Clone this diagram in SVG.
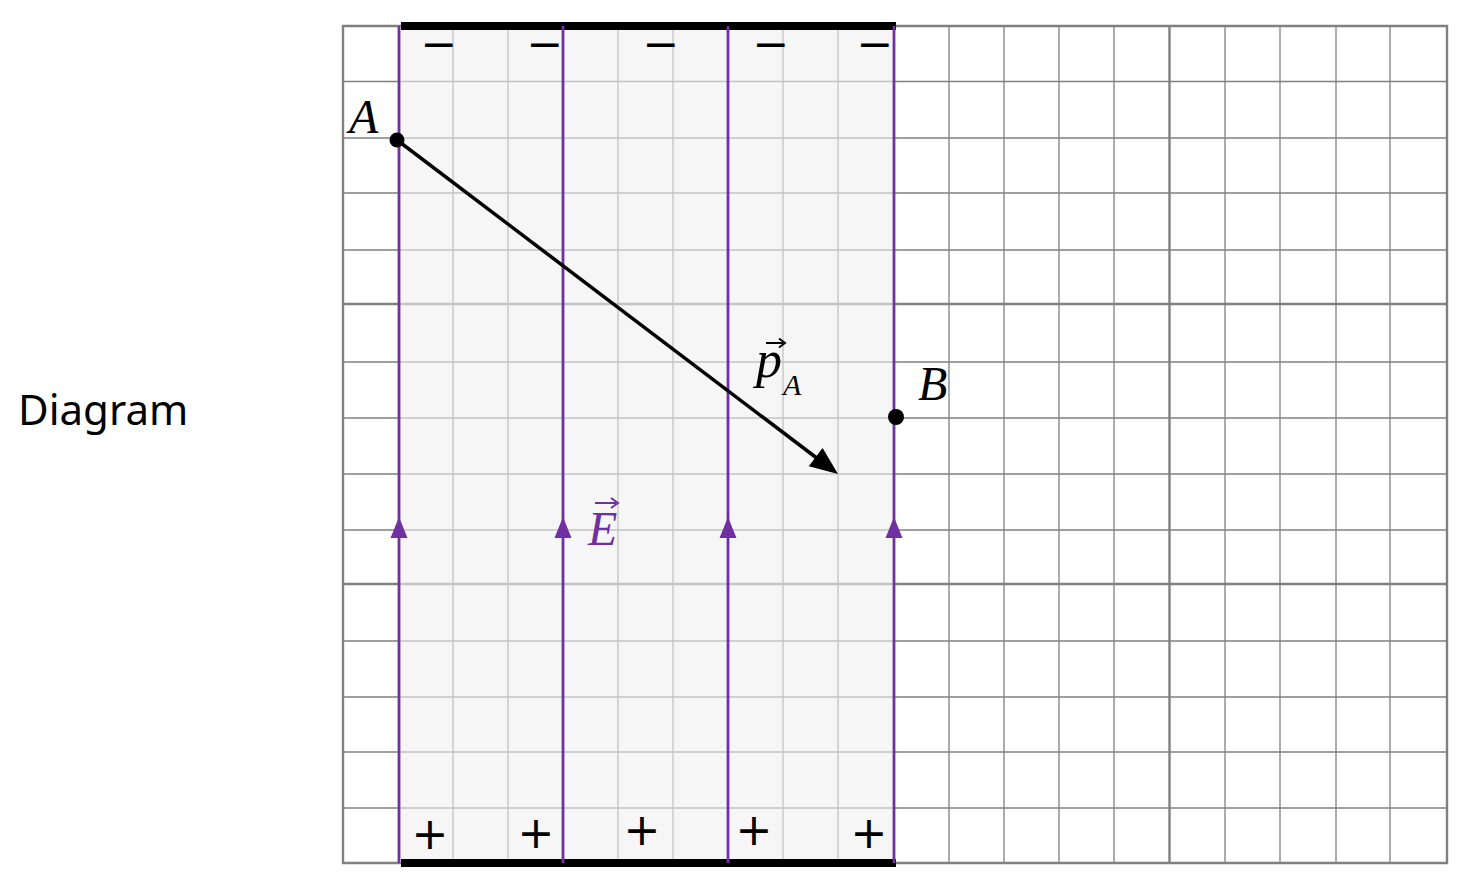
<svg xmlns="http://www.w3.org/2000/svg" width="1469" height="890" viewBox="0 0 1469 890">
<style>
.g{stroke:#808080;stroke-width:1.3;fill:none}
.gm{stroke:#808080;stroke-width:2.4;fill:none}
.fl{stroke:#7030a0;stroke-width:2.8;fill:none}
.fh{fill:#7030a0}
.sign{font-family:"DejaVu Sans",sans-serif;font-size:44px;fill:#000;text-anchor:middle}
.lab{font-family:"Liberation Serif",serif;font-style:italic;font-size:48px;fill:#000}
.sub{font-family:"Liberation Serif",serif;font-style:italic;font-size:30px;fill:#000}
</style>
<rect width="1469" height="890" fill="#fff"/>
<text id="title" x="18" y="425" font-family="Noto Sans, sans-serif" font-size="42" fill="#000">Diagram</text>
<g id="grid">
<path class="g" d="M399 26V863M453 26V863M508 26V863M563 26V863M618 26V863M673 26V863M728 26V863M783 26V863M838 26V863M894 26V863M949 26V863M1004 26V863M1059 26V863M1114 26V863M1225 26V863M1280 26V863M1336 26V863M1390 26V863"/>
<path class="g" d="M343 81.5H1447M343 138H1447M343 193H1447M343 250H1447M343 362H1447M343 418H1447M343 474H1447M343 530H1447M343 641H1447M343 697H1447M343 752H1447M343 808H1447"/>
<path class="gm" d="M343 26H1447V863H343ZM1169.5 26V863M343 304H1447M343 584H1447"/>
</g>
<rect id="field-region" x="399" y="26" width="495" height="837" fill="#f0f0f0" fill-opacity="0.6"/>
<g id="plates">
<rect id="plate-top" x="401" y="22" width="495" height="8" fill="#000"/>
<rect id="plate-bottom" x="401" y="859" width="495" height="8" fill="#000"/>
<text class="sign" x="439" y="58.5">−</text>
<text class="sign" x="545" y="58.5">−</text>
<text class="sign" x="661" y="58.5">−</text>
<text class="sign" x="771" y="58.5">−</text>
<text class="sign" x="875" y="58.5">−</text>
<text class="sign" x="430" y="849">+</text>
<text class="sign" x="536" y="848">+</text>
<text class="sign" x="642" y="845">+</text>
<text class="sign" x="754" y="845">+</text>
<text class="sign" x="869" y="848">+</text>
</g>
<g id="field-lines">
<path class="fl" d="M399 26V863M563 26V863M728 26V863M894 26V863"/>
<path class="fh" d="M399 517l8.5 21h-17zM563 517l8.5 21h-17zM728 517l8.5 21h-17zM894 517l8.5 21h-17z"/>
</g>
<g id="E-label">
<text x="588" y="545" class="lab" style="fill:#7030a0">E</text>
<path d="M595 503H616" stroke="#7030a0" stroke-width="2"/>
<path d="M611 498l7 5l-7 5" stroke="#7030a0" stroke-width="2" fill="none"/>
</g>
<g id="connectors">
<path d="M397 140L818 459" stroke="#000" stroke-width="3.5" fill="none"/>
<polygon points="838,474 808.8,466.3 822.6,447.9" fill="#000"/>
</g>
<g id="pA-label">
<text x="756" y="377" class="lab" style="font-size:52px">p</text>
<text x="783" y="395" class="sub">A</text>
<path d="M766 343H783" stroke="#000" stroke-width="2"/>
<path d="M779 338.5l6 4.5l-6 4.5" stroke="#000" stroke-width="2" fill="none"/>
</g>
<g id="node-A">
<circle cx="397" cy="140" r="7.5" fill="#000"/>
<text x="349" y="133" class="lab">A</text>
</g>
<g id="node-B">
<circle cx="896" cy="417" r="8" fill="#000"/>
<text x="918" y="400" class="lab">B</text>
</g>
</svg>
